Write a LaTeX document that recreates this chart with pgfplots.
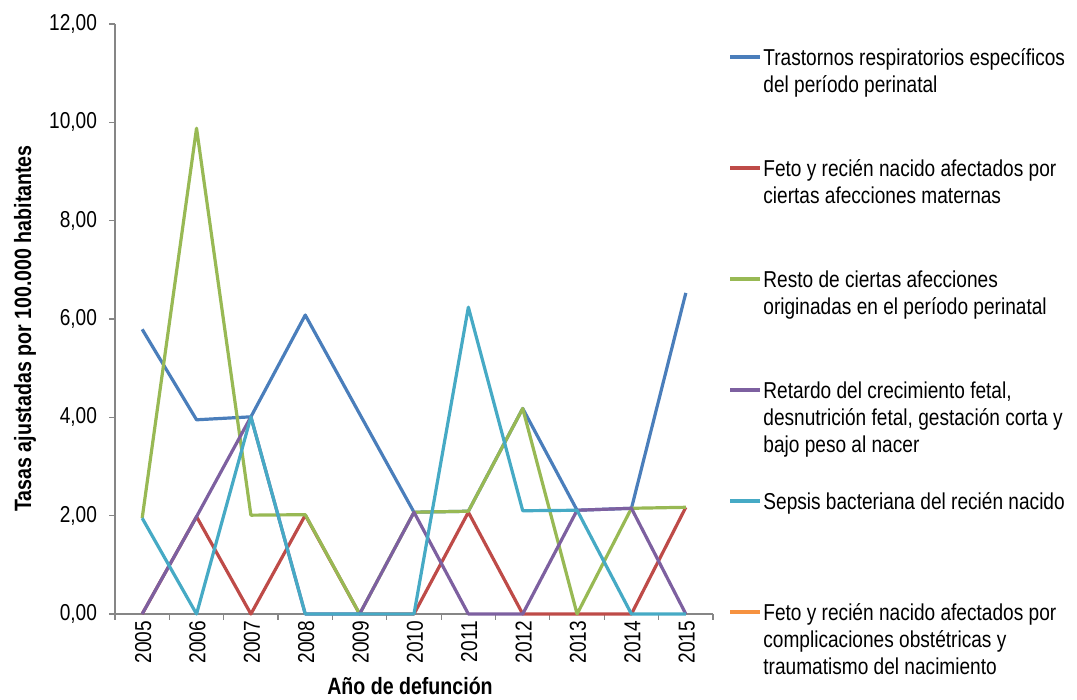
\documentclass[border=0pt]{standalone}
\usepackage{fontspec}
\setmainfont{Liberation Sans}[FakeStretch=0.83]
\usepackage{pgfplots}
\pgfplotsset{compat=1.18}
\definecolor{cblue}{HTML}{4A7EBB}
\definecolor{cred}{HTML}{BE4B48}
\definecolor{cgreen}{HTML}{98B954}
\definecolor{cpurple}{HTML}{7D60A0}
\definecolor{ccyan}{HTML}{46AAC5}
\definecolor{corange}{HTML}{F69240}
\definecolor{axgray}{HTML}{868686}

\begin{document}
\begin{tikzpicture}
\begin{axis}[
  scale only axis, width=299pt, height=295pt,
  xmin=2004.5, xmax=2015.5, ymin=0, ymax=12,
  axis x line*=bottom, axis y line*=left,
  axis line style={draw=axgray, line width=0.6pt},
  tick align=outside, major tick length=3pt,
  tick style={draw=axgray, line width=0.6pt},
  font=\fontsize{11.5}{13.5}\selectfont,
  ytick={0,2,...,12},
  yticklabel style={xshift=-2.5pt, /pgf/number format/.cd, fixed, fixed zerofill, precision=2, use comma, assume math mode=true},
  xtick={2004.5,2005.5,...,2015.5}, xticklabels={},
  extra x ticks={2005,...,2015},
  extra x tick style={major tick length=0pt, tick style={draw=none}},
  extra x tick labels={2005,2006,2007,2008,2009,2010,2011,2012,2013,2014,2015},
  xticklabel style={rotate=90, anchor=east, yshift=-0.5pt},
  every axis y label/.style={at={(axis description cs:-0.1505,0.4839)}, rotate=90, anchor=center, font=\fontsize{11.8}{13.5}\selectfont\bfseries},
  every axis x label/.style={at={(axis description cs:0.4933,-0.1225)}, anchor=center, font=\fontsize{11.8}{13.5}\selectfont\bfseries},
  ylabel={Tasas ajustadas por 100.000 habitantes},
  xlabel={Año de defunción},
  every axis plot/.append style={line width=1.6pt, line join=round, no markers},
  clip=false,
]
% Trastornos respiratorios
\addplot[cblue] coordinates {(2005,5.79) (2006,3.95) (2007,4.01) (2008,6.08) (2009,4.07) (2010,2.07) (2011,2.09) (2012,4.18) (2013,2.11) (2014,2.15) (2015,6.53)};
% Feto ... afecciones maternas
\addplot[cred] coordinates {(2005,0) (2006,1.98) (2007,0) (2008,2.01) (2009,0) (2010,0) (2011,2.07) (2012,0) (2013,0) (2014,0) (2015,2.17)};
% Resto de ciertas afecciones
\addplot[cgreen] coordinates {(2005,1.95) (2006,9.88) (2007,2.01) (2008,2.02) (2009,0) (2010,2.07) (2011,2.09) (2012,4.18) (2013,0) (2014,2.15) (2015,2.17)};
% Retardo del crecimiento fetal
\addplot[cpurple] coordinates {(2005,0) (2006,1.98) (2007,4.01) (2008,0) (2009,0) (2010,2.07) (2011,0) (2012,0) (2013,2.11) (2014,2.15) (2015,0)};
% Sepsis bacteriana
\addplot[ccyan] coordinates {(2005,1.95) (2006,0) (2007,4.01) (2008,0) (2009,0) (2010,0) (2011,6.24) (2012,2.10) (2013,2.11) (2014,0) (2015,0)};
\end{axis}
% legend
\begin{scope}[font=\fontsize{11.5}{13.5}\selectfont]
\foreach \y/\c/\t in {
  278.5/cblue/{Trastornos respiratorios específicos\\del período perinatal},
  223/cred/{Feto y recién nacido afectados por\\ciertas afecciones maternas},
  167.5/cgreen/{Resto de ciertas afecciones\\originadas en el período perinatal},
  112/cpurple/{Retardo del crecimiento fetal,\\desnutrición fetal, gestación corta y\\bajo peso al nacer},
  56.5/ccyan/{Sepsis bacteriana del recién nacido},
  1/corange/{Feto y recién nacido afectados por\\complicaciones obstétricas y\\traumatismo del nacimiento}} {
  \draw[\c, line width=1.6pt] (307.5pt,\y pt) -- (322.5pt,\y pt);
  \node[anchor=base west, inner sep=0pt] at (324pt,\y pt-4.1pt) {\begin{tabular}[t]{@{}l@{}}\t\end{tabular}};
}
\end{scope}
\pgfresetboundingbox
\path[use as bounding box] (-57.5pt,-43pt) rectangle (481pt,307pt);
\end{tikzpicture}
\end{document}
